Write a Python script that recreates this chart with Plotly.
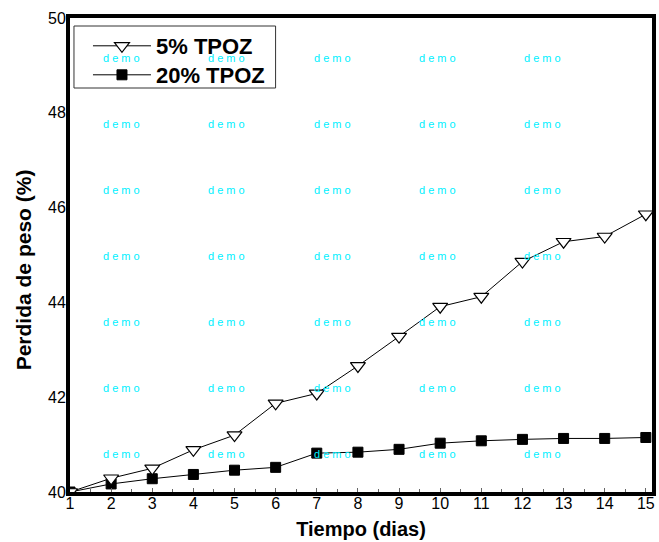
import plotly.graph_objects as go

# Weight loss (%) over time (days)
dias = [1, 2, 3, 4, 5, 6, 7, 8, 9, 10, 11, 12, 13, 14, 15]
tpoz_5 = [40.0, 40.29, 40.5, 40.89, 41.2, 41.87, 42.08, 42.66, 43.28, 43.91, 44.12, 44.86, 45.28, 45.39, 45.86]
tpoz_20 = [40.0, 40.17, 40.28, 40.37, 40.46, 40.52, 40.82, 40.84, 40.9, 41.03, 41.08, 41.11, 41.13, 41.13, 41.15]

y_ticks = [40, 42, 44, 46, 48, 50]
x_ticks = list(range(1, 16))

FONT = "Liberation Sans, Arial, sans-serif"

L, R, T, B = 70, 3, 18, 50
W, H = 659, 542
pw, ph = W - L - R, H - T - B


def px_x(px):
    return (px - L) / pw


def px_y(py):
    return (H - B - py) / ph


fig = go.Figure()

fig.add_trace(go.Scatter(
    x=dias, y=tpoz_20, name="20% TPOZ", mode="lines+markers", legend="legend2",
    line=dict(color="black", width=1),
    marker=dict(symbol="square", size=10, color="black",
                line=dict(color="black", width=1)),
))
fig.add_trace(go.Scatter(
    x=dias, y=tpoz_5, name="5% TPOZ", mode="lines+markers", legend="legend",
    line=dict(color="black", width=1),
    marker=dict(symbol="triangle-down", size=13, color="white",
                line=dict(color="black", width=1.2)),
))

# "demo" watermark grid
wm_x = [122, 228, 334, 440, 546]
wm_y = [58, 124, 190, 256, 322, 388, 454]
annotations = []
for py in wm_y:
    for px in wm_x:
        annotations.append(dict(
            x=px_x(px), y=px_y(py), xref="paper", yref="paper",
            text="d e m o", showarrow=False,
            font=dict(family=FONT, size=11, color="#00F0FF"),
            xanchor="center", yanchor="middle",
        ))

# y-axis title placed as a rotated annotation
annotations.append(dict(
    x=px_x(23), y=px_y(270), xref="paper", yref="paper",
    text="Perdida de peso (%)", showarrow=False, textangle=-90,
    font=dict(family=FONT, size=21, color="black", weight="bold"),
    xanchor="center", yanchor="middle",
))

legend_style = dict(
    xanchor="left", yanchor="middle",
    bgcolor="rgba(0,0,0,0)", borderwidth=0,
    font=dict(family=FONT, size=22, color="black", weight="bold"),
    itemwidth=58, indentation=14,
)

fig.update_layout(
    width=W, height=H,
    margin=dict(l=L, r=R, t=T, b=B),
    paper_bgcolor="white", plot_bgcolor="white",
    font=dict(family=FONT, color="black"),
    showlegend=True,
    legend=dict(x=px_x(74), y=px_y(46), **legend_style),
    legend2=dict(x=px_x(74), y=px_y(75), **legend_style),
    shapes=[dict(
        type="rect", xref="paper", yref="paper",
        x0=px_x(74), x1=px_x(277), y0=px_y(88), y1=px_y(26),
        line=dict(color="#333333", width=1), fillcolor="rgba(0,0,0,0)",
        layer="above",
    )],
    xaxis=dict(
        range=[1, 15.15], tickvals=x_ticks,
        showgrid=False, zeroline=False,
        showline=True, linecolor="black", linewidth=4, mirror=True,
        ticks="inside", ticklen=4, tickcolor="#666666", tickwidth=1,
        minor=dict(dtick=0.5, ticks="inside", ticklen=3, tickcolor="#666666"),
        tickfont=dict(family=FONT, size=16, color="black"),
        ticklabelstandoff=-6,
        title=dict(text="Tiempo (dias)", standoff=12,
                   font=dict(family=FONT, size=20, color="black", weight="bold")),
    ),
    yaxis=dict(
        range=[40, 50], tickvals=y_ticks,
        showgrid=False, zeroline=False,
        showline=True, linecolor="black", linewidth=4, mirror=True,
        ticks="",
        tickfont=dict(family=FONT, size=16, color="black"),
        ticklabelstandoff=-3,
    ),
    annotations=annotations,
)

fig.write_html("out.html")
